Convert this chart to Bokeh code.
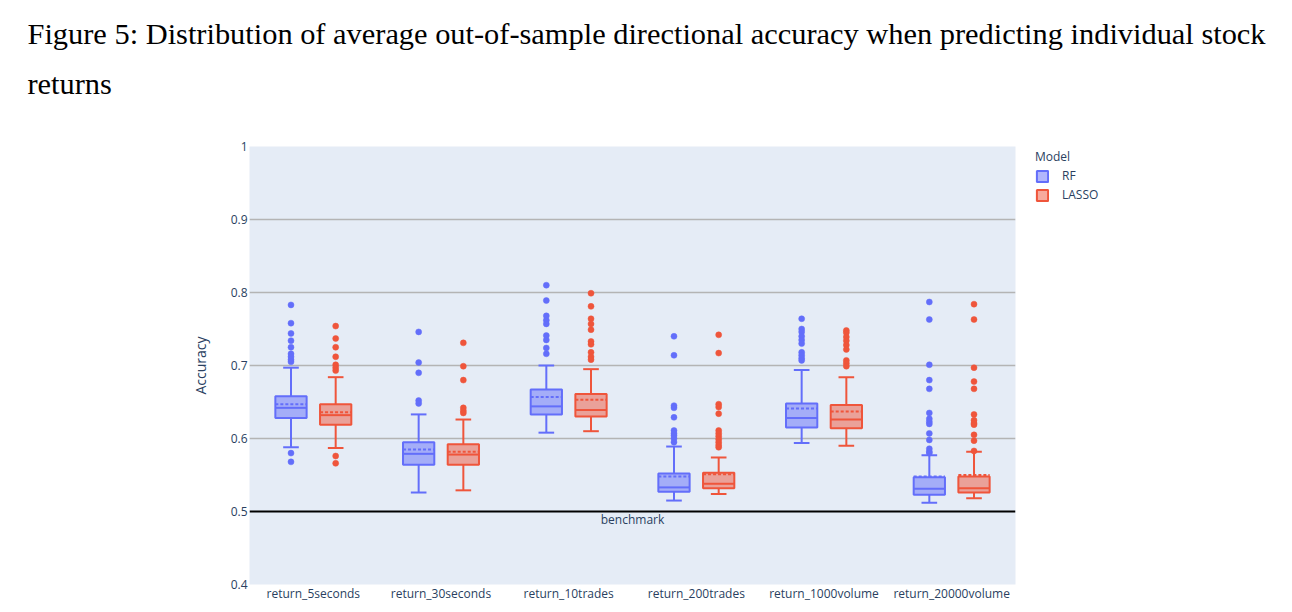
from bokeh.plotting import figure
from bokeh.models import (FactorRange, Range1d, Span, Label, Legend, LegendItem,
                          FixedTicker, ColumnDataSource, Title)
from bokeh.transform import dodge
from bokeh.embed import file_html
from bokeh.resources import INLINE

# ---------------- data ----------------
categories = ["return_5seconds", "return_30seconds", "return_10trades",
              "return_200trades", "return_1000volume", "return_20000volume"]
models = ["RF", "LASSO"]

rf_q1 = [0.628, 0.564, 0.633, 0.527, 0.615, 0.523]
rf_median = [0.642, 0.579, 0.644, 0.533, 0.628, 0.531]
rf_q3 = [0.658, 0.595, 0.667, 0.552, 0.648, 0.547]
rf_lower = [0.588, 0.526, 0.608, 0.515, 0.594, 0.512]
rf_upper = [0.697, 0.633, 0.700, 0.589, 0.694, 0.577]
rf_mean = [0.647, 0.585, 0.657, 0.548, 0.641, 0.548]
rf_outliers = [
    [0.783, 0.758, 0.744, 0.734, 0.725, 0.716, 0.712, 0.708, 0.705, 0.580, 0.568],
    [0.746, 0.704, 0.690, 0.652, 0.648],
    [0.810, 0.789, 0.768, 0.762, 0.757, 0.741, 0.735, 0.724, 0.716],
    [0.740, 0.714, 0.645, 0.642, 0.629, 0.611, 0.607, 0.604, 0.600, 0.595],
    [0.764, 0.750, 0.746, 0.740, 0.735, 0.730, 0.718, 0.714, 0.710, 0.707],
    [0.787, 0.763, 0.701, 0.680, 0.668, 0.635, 0.627, 0.623, 0.620, 0.607,
     0.598, 0.586, 0.582, 0.580],
]

lasso_q1 = [0.619, 0.564, 0.630, 0.532, 0.614, 0.526]
lasso_median = [0.632, 0.578, 0.639, 0.538, 0.626, 0.532]
lasso_q3 = [0.647, 0.592, 0.661, 0.553, 0.646, 0.548]
lasso_lower = [0.587, 0.529, 0.610, 0.524, 0.590, 0.518]
lasso_upper = [0.684, 0.626, 0.695, 0.574, 0.684, 0.582]
lasso_mean = [0.636, 0.582, 0.653, 0.551, 0.637, 0.550]
lasso_outliers = [
    [0.754, 0.737, 0.725, 0.712, 0.701, 0.697, 0.693, 0.576, 0.566],
    [0.731, 0.699, 0.680, 0.642, 0.638, 0.635],
    [0.799, 0.781, 0.764, 0.757, 0.749, 0.733, 0.729, 0.718, 0.712, 0.708],
    [0.742, 0.717, 0.647, 0.643, 0.634, 0.611, 0.607, 0.603, 0.599, 0.595,
     0.591, 0.588],
    [0.748, 0.745, 0.739, 0.734, 0.728, 0.722, 0.707, 0.703, 0.699],
    [0.784, 0.763, 0.697, 0.678, 0.668, 0.633, 0.625, 0.621, 0.619, 0.605,
     0.597, 0.583],
]

benchmark = 0.5
y_ticks = [0.4, 0.5, 0.6, 0.7, 0.8, 0.9, 1.0]
y_tick_labels = ["0.4", "0.5", "0.6", "0.7", "0.8", "0.9", "1"]

title_line1 = "Figure 5:  Distribution of average out-of-sample directional accuracy when predicting individual stock"
title_line2 = "returns"

# ---------------- styles ----------------
FONT = "Open Sans"
TXT = "#2a3f5f"
colors = {"RF": "#636efa", "LASSO": "#EF553B"}
offsets = {"RF": -0.175, "LASSO": 0.175}
BOX_W = 0.245
CAP_W = BOX_W * 0.5

p = figure(x_range=FactorRange(*categories), y_range=Range1d(0.4, 1.0),
           frame_width=766, frame_height=438,
           min_border_left=249, min_border_right=269, min_border_top=146,
           min_border_bottom=22, title_location=None,
           output_backend="svg", toolbar_location=None,
           background_fill_color="#E5ECF6", border_fill_color="white",
           outline_line_color=None)

p.ygrid.ticker = FixedTicker(ticks=[0.6, 0.7, 0.8, 0.9])
p.ygrid.grid_line_color = "#b4b4b4"
p.ygrid.grid_line_width = 1.5
p.xgrid.grid_line_color = None

span = Span(location=benchmark, dimension="width", line_color="black", line_width=2)
p.add_layout(span)

data = {
    "RF": (rf_q1, rf_median, rf_q3, rf_lower, rf_upper, rf_mean, rf_outliers),
    "LASSO": (lasso_q1, lasso_median, lasso_q3, lasso_lower, lasso_upper,
              lasso_mean, lasso_outliers),
}

box_renderers = {}
for m in models:
    q1, med, q3, lo, hi, mean, outs = data[m]
    c = colors[m]
    off = offsets[m]
    src = ColumnDataSource(dict(cat=categories, q1=q1, med=med, q3=q3,
                                lo=lo, hi=hi, mean=mean))
    # whiskers
    p.segment(x0=dodge("cat", off, range=p.x_range), x1=dodge("cat", off, range=p.x_range),
              y0="q3", y1="hi", line_color=c, line_width=2, source=src)
    p.segment(x0=dodge("cat", off, range=p.x_range), x1=dodge("cat", off, range=p.x_range),
              y0="q1", y1="lo", line_color=c, line_width=2, source=src)
    p.segment(x0=dodge("cat", off - CAP_W / 2, range=p.x_range),
              x1=dodge("cat", off + CAP_W / 2, range=p.x_range),
              y0="hi", y1="hi", line_color=c, line_width=2, source=src)
    p.segment(x0=dodge("cat", off - CAP_W / 2, range=p.x_range),
              x1=dodge("cat", off + CAP_W / 2, range=p.x_range),
              y0="lo", y1="lo", line_color=c, line_width=2, source=src)
    # box
    box = p.vbar(x=dodge("cat", off, range=p.x_range), top="q3", bottom="q1",
                 width=BOX_W, fill_color=c, fill_alpha=0.5, line_color=c,
                 line_width=2, source=src)
    box_renderers[m] = box
    # median
    p.segment(x0=dodge("cat", off - BOX_W / 2, range=p.x_range),
              x1=dodge("cat", off + BOX_W / 2, range=p.x_range),
              y0="med", y1="med", line_color=c, line_width=2, source=src)
    # mean (dashed)
    p.segment(x0=dodge("cat", off - BOX_W / 2, range=p.x_range),
              x1=dodge("cat", off + BOX_W / 2, range=p.x_range),
              y0="mean", y1="mean", line_color=c, line_width=2,
              line_dash="3 2", source=src)
    # outliers
    ocat, oval = [], []
    for cat, vals in zip(categories, outs):
        for v in vals:
            ocat.append(cat)
            oval.append(v)
    osrc = ColumnDataSource(dict(cat=ocat, val=oval))
    p.scatter(x=dodge("cat", off, range=p.x_range), y="val", size=6,
              fill_color=c, line_color=c, line_width=0.5, source=osrc)

# axes
p.yaxis.ticker = FixedTicker(ticks=y_ticks)
p.yaxis.major_label_overrides = {t: l for t, l in zip(y_ticks, y_tick_labels)}
for ax in (p.xaxis[0], p.yaxis[0]):
    ax.axis_line_color = None
    ax.major_tick_line_color = None
    ax.minor_tick_line_color = None
    ax.major_tick_out = 0
    ax.major_tick_in = 0
    ax.minor_tick_out = 0
    ax.minor_tick_in = 0
    ax.major_label_text_font = FONT
    ax.major_label_text_font_size = "12px"
    ax.major_label_text_color = TXT
p.yaxis.major_label_standoff = 2
p.xaxis.major_label_standoff = 0
p.yaxis.axis_label = "Accuracy"
p.yaxis.axis_label_text_font = FONT
p.yaxis.axis_label_text_font_size = "14px"
p.yaxis.axis_label_text_font_style = "normal"
p.yaxis.axis_label_text_color = TXT
p.yaxis.axis_label_standoff = 18

# benchmark label
p.add_layout(Label(x=3, y=benchmark, y_offset=1, text="benchmark",
                   text_align="center", text_baseline="top",
                   text_font=FONT, text_font_size="12px", text_color=TXT))

# blank spacer between the plot and the caption (first added sits closest to the plot)
p.add_layout(Title(text=" ", standoff=41, text_font_size="2px"), "above")
# caption lines
p.add_layout(Title(text=title_line2, align="left", offset=-222, standoff=2,
                   text_font="Liberation Serif", text_font_size="30.4px",
                   text_font_style="normal", text_color="black"), "above")
p.add_layout(Title(text=title_line1, align="left", offset=-222, standoff=26,
                   text_font="Liberation Serif", text_font_size="30.4px",
                   text_font_style="normal", text_color="black"), "above")

legend = Legend(items=[LegendItem(label=m, renderers=[box_renderers[m]]) for m in models],
                title="Model", title_text_font=FONT, title_text_font_size="12px",
                title_text_font_style="normal", title_text_color=TXT, title_standoff=2,
                location=(20, 381), orientation="vertical",
                glyph_width=14, glyph_height=14, label_height=14, label_standoff=13,
                spacing=2, padding=0, margin=0,
                label_text_font=FONT, label_text_font_size="12px",
                label_text_color=TXT, border_line_color=None,
                background_fill_alpha=0)
p.add_layout(legend, "right")

open("out.html", "w").write(file_html(p, INLINE))
